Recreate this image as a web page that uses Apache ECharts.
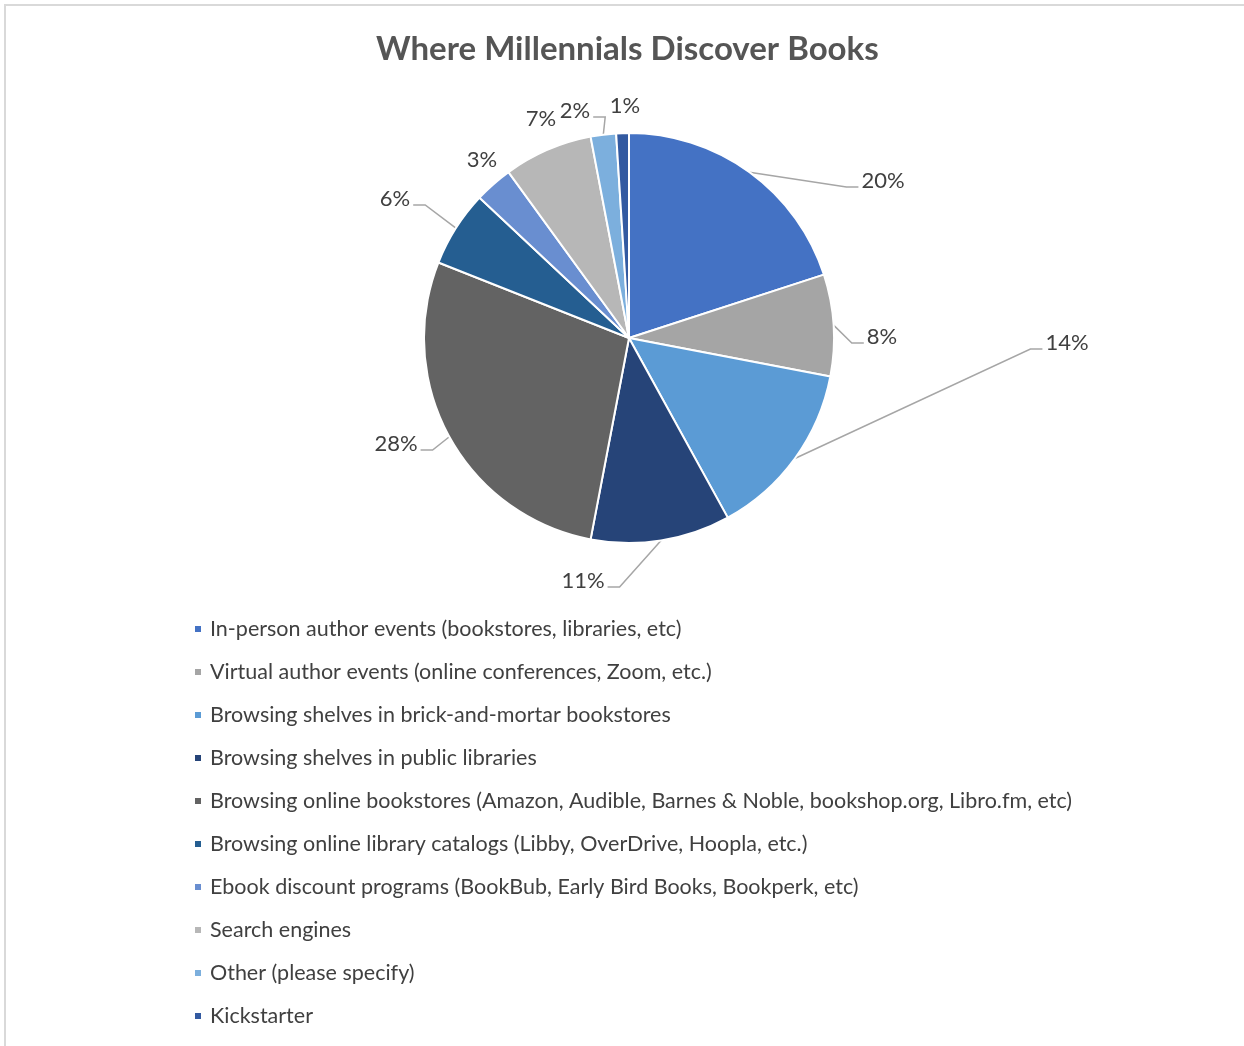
<!DOCTYPE html>
<html>
<head>
<meta charset="utf-8">
<script src="https://cdn.jsdelivr.net/npm/echarts@6/dist/echarts.min.js"></script>
<style>
  html, body { margin: 0; padding: 0; background: #ffffff; }
  #chart { width: 1244px; height: 1046px; }
</style>
</head>
<body>
<div id="chart"></div>
<script>
// Survey answers: where millennials discover books (share of responses, %)
const categories = [
  'In-person author events (bookstores, libraries, etc)',
  'Virtual author events (online conferences, Zoom, etc.)',
  'Browsing shelves in brick-and-mortar bookstores',
  'Browsing shelves in public libraries',
  'Browsing online bookstores (Amazon, Audible, Barnes & Noble, bookshop.org, Libro.fm, etc)',
  'Browsing online library catalogs (Libby, OverDrive, Hoopla, etc.)',
  'Ebook discount programs (BookBub, Early Bird Books, Bookperk, etc)',
  'Search engines',
  'Other (please specify)',
  'Kickstarter'
];
const shares = [20, 8, 14, 11, 28, 6, 3, 7, 2, 1];

// Slice palette (blue / gray theme)
const sliceColors = [
  '#4472C4', '#A5A5A5', '#5B9BD5', '#264478', '#636363',
  '#255E91', '#698ED0', '#B7B7B7', '#7CAFDD', '#335AA1'
];

// Hand-placed percentage labels (centre of each label, px) and leader-line visibility
const labelSpots = [
  [883, 181], [882, 337], [1067, 343], [583, 581], [396, 444],
  [395, 199], [482, 160], [541, 119], [575, 111], [625, 106]
];
const leaderShown = [true, true, true, true, true, true, false, false, true, false];

const FONT = 'Lato, "Open Sans", sans-serif';
const TEXT_COLOR = '#404040';

const chart = echarts.init(document.getElementById('chart'), null, { renderer: 'canvas' });

const pieData = categories.map((name, i) => ({
  name: name,
  value: shares[i],
  itemStyle: { color: sliceColors[i] },
  labelLine: { show: leaderShown[i] }
}));

chart.setOption({
  animation: false,
  backgroundColor: '#ffffff',
  graphic: [{
    type: 'rect',
    z: -10,
    shape: { x: 5, y: 5, width: 1400, height: 1200 },
    style: { fill: 'none', stroke: '#D9D9D9', lineWidth: 2 }
  }],
  title: {
    text: 'Where Millennials Discover Books',
    left: 376,
    top: 33,
    padding: 0,
    textStyle: {
      fontFamily: FONT,
      fontWeight: 'bold',
      fontSize: 33,
      color: '#555555'
    }
  },
  legend: {
    orient: 'vertical',
    left: 188,
    top: 613,
    icon: 'rect',
    itemWidth: 8,
    itemHeight: 8,
    itemGap: 21,
    selectedMode: false,
    data: categories,
    textStyle: {
      fontFamily: FONT,
      fontSize: 21.5,
      lineHeight: 22,
      color: TEXT_COLOR,
      padding: [0, 0, 0, 3]
    }
  },
  series: [{
    type: 'pie',
    center: [629, 338],
    radius: 205,
    startAngle: 90,
    clockwise: true,
    avoidLabelOverlap: false,
    data: pieData,
    itemStyle: { borderColor: '#ffffff', borderWidth: 2 },
    emphasis: { disabled: true },
    label: {
      show: true,
      position: 'outside',
      formatter: p => p.value + '%',
      fontFamily: FONT,
      fontSize: 22,
      color: TEXT_COLOR
    },
    labelLine: {
      show: true,
      length: 10,
      length2: 10,
      lineStyle: { color: '#A6A6A6', width: 1.5 }
    },
    labelLayout: function (p) {
      const i = p.dataIndex;
      const cx = labelSpots[i][0];
      const cy = labelSpots[i][1];
      const out = { x: cx, y: cy, align: 'center', verticalAlign: 'middle' };
      if (leaderShown[i] && p.labelLinePoints) {
        const start = p.labelLinePoints[0];
        const half = p.labelRect.width / 2;
        const toRight = cx > start[0];
        const endX = toRight ? cx - half - 3 : cx + half + 3;
        const bendX = toRight ? endX - 12 : endX + 12;
        const lineY = cy + 6;
        out.labelLinePoints = [[start[0], start[1]], [bendX, lineY], [endX, lineY]];
      }
      return out;
    }
  }]
});
</script>
</body>
</html>
